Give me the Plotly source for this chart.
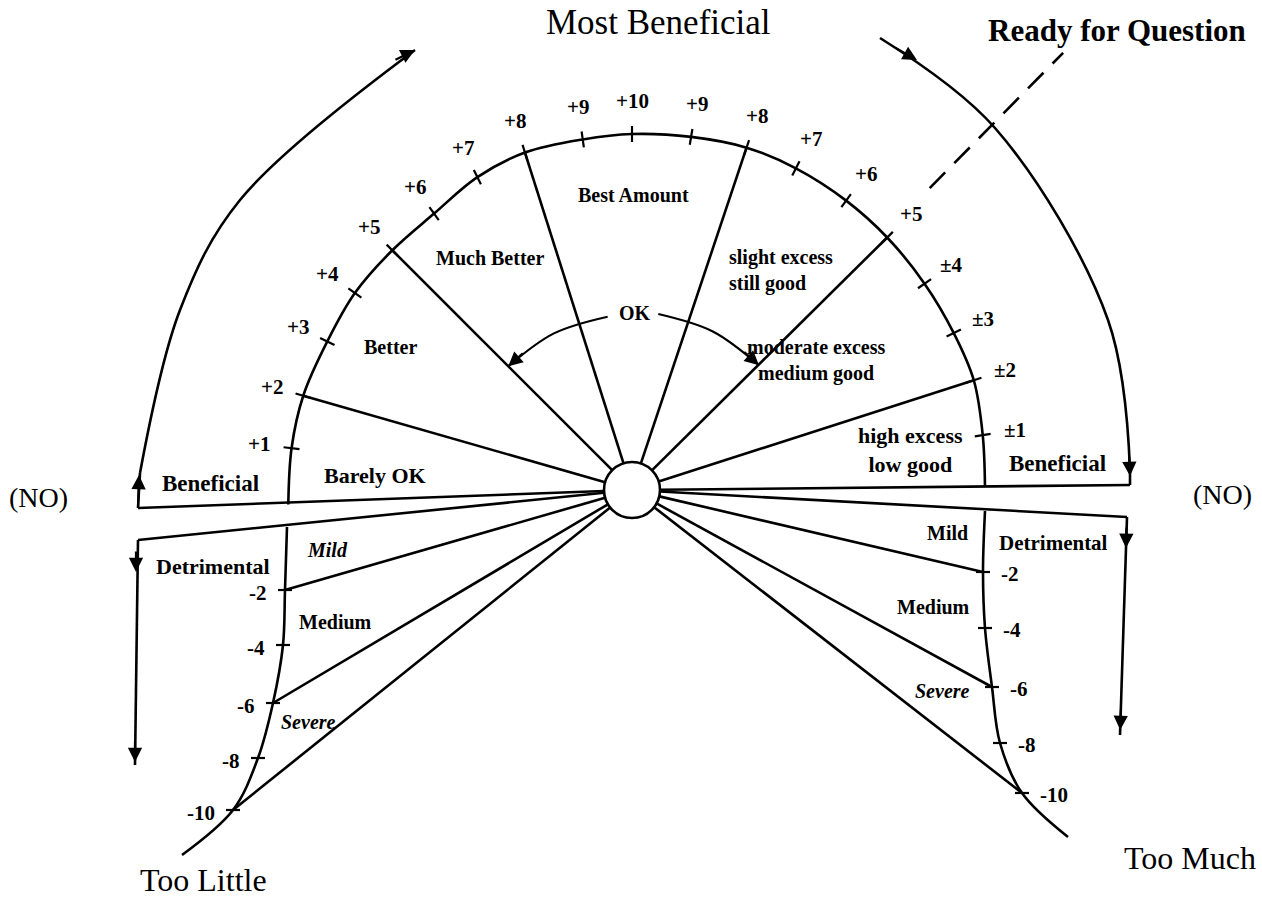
import math
import plotly.graph_objects as go

# ---------------- values ----------------
# geometry is expressed around the central hub (0, 0); units = pixels, y upward
HUB_RADIUS = 28

# upper (beneficial) scale: label, angle (deg), radius
upper_labels = ["+1", "+2", "+3", "+4", "+5", "+6", "+7", "+8", "+9", "+10",
                "+9", "+8", "+7", "+6", "+5", "±4", "±3", "±2", "±1"]
upper_angles = [173, 164, 154, 144.6, 135, 125.6, 116.3, 107.6, 98, 90,
                80.5, 71.5, 63, 53.5, 44.7, 35.2, 26, 17.8, 8.9]
upper_radii = [343, 342, 339, 340, 339, 340, 349, 354, 354, 356,
               358, 361, 361, 360, 359, 358, 358, 359, 355]
upper_end_angles = [182.4, 0.5]
upper_end_radii = [344, 353]
upper_spokes = [1, 4, 7, 11, 14, 17]          # +2, +5, +8 on both sides

# lower (detrimental) scales
lower_labels = ["-2", "-4", "-6", "-8", "-10"]
lower_left_x = [-347, -349, -359, -374, -399]
lower_left_y = [-100, -155, -213, -268, -320]
lower_left_ends_x = [-345, -450]
lower_left_ends_y = [-37, -365]
lower_right_x = [351, 353, 360, 368, 390]
lower_right_y = [-82, -138, -197, -253, -303]
lower_right_ends_x = [353, 436]
lower_right_ends_y = [-21, -347]
lower_spokes = [0, 2, 4]                       # -2, -6, -10

# outer "Beneficial" return paths
outer_left_x = [-492, -452, -392, -217]
outer_left_y = [17, 180, 290, 440]
outer_right_x = [248, 363, 476, 498]
outer_right_y = [452, 362, 170, 20]

# horizontal boundary lines (outer ends) and vertical drops
bound_x = [-494, -494, 498, 495]
bound_y = [-18, -50, 5, -27]
drop_left_end = (-497, -275)
drop_right_end = (488, -245)

# "OK" arcs: radius, start angle, end angle
ok_left = (175, 98, 135)
ok_right = (178, 81.5, 44.5)

# dashed "Ready for Question" ray: angle, inner r, outer r
ready_ray = (45.4, 424, 614)

FONT = "Liberation Serif"
INK = "black"
LW = 2.6


def polar(a, r):
    t = math.radians(a)
    return r * math.cos(t), r * math.sin(t)


fig = go.Figure()


def line(xs, ys, width=LW, shape="linear", dash="solid"):
    fig.add_trace(go.Scatter(x=xs, y=ys, mode="lines", hoverinfo="skip",
                             showlegend=False,
                             line=dict(color=INK, width=width, shape=shape, dash=dash)))


# upper arc
nodes = [polar(upper_end_angles[0], upper_end_radii[0])]
nodes += [polar(a, r) for a, r in zip(upper_angles, upper_radii)]
nodes += [polar(upper_end_angles[1], upper_end_radii[1])]
line([p[0] for p in nodes], [p[1] for p in nodes], shape="spline")

# upper ticks
tx, ty = [], []
for a, r in zip(upper_angles, upper_radii):
    p0, p1 = polar(a, r - 8), polar(a, r + 8)
    tx += [p0[0], p1[0], None]
    ty += [p0[1], p1[1], None]
line(tx, ty, width=2.2)

# upper spokes
sx, sy = [], []
for i in upper_spokes:
    p0 = polar(upper_angles[i], HUB_RADIUS)
    p1 = polar(upper_angles[i], upper_radii[i])
    sx += [p0[0], p1[0], None]
    sy += [p0[1], p1[1], None]
line(sx, sy)

# lower curves
for xs, ys, ex, ey in [(lower_left_x, lower_left_y, lower_left_ends_x, lower_left_ends_y),
                       (lower_right_x, lower_right_y, lower_right_ends_x, lower_right_ends_y)]:
    line([ex[0]] + xs + [ex[1]], [ey[0]] + ys + [ey[1]], shape="spline")
    kx, ky = [], []
    for x, y in zip(xs, ys):
        kx += [x - 7, x + 7, None]
        ky += [y, y, None]
    line(kx, ky, width=2.2)
    px, py = [], []
    for i in lower_spokes:
        d = math.hypot(xs[i], ys[i])
        px += [xs[i] * HUB_RADIUS / d, xs[i], None]
        py += [ys[i] * HUB_RADIUS / d, ys[i], None]
    line(px, py)

# boundary lines from hub
bx, by = [], []
for x, y in zip(bound_x, bound_y):
    d = math.hypot(x, y)
    bx += [x * HUB_RADIUS / d, x, None]
    by += [y * HUB_RADIUS / d, y, None]
line(bx, by)

# outer return arcs + vertical drops
line(outer_left_x, outer_left_y, shape="spline")
line([bound_x[0], outer_left_x[0]], [bound_y[0], outer_left_y[0]])
line(outer_right_x, outer_right_y, shape="spline")
line([outer_right_x[-1], bound_x[2]], [outer_right_y[-1], bound_y[2]])
line([bound_x[1], drop_left_end[0]], [bound_y[1], drop_left_end[1]])
line([bound_x[3], drop_right_end[0]], [bound_y[3], drop_right_end[1]])

# OK arcs
for r, a0, a1 in [ok_left, ok_right]:
    pts = [polar(a, r) for a in (a0, (a0 + a1) / 2, a1)]
    line([p[0] for p in pts], [p[1] for p in pts], width=2.2, shape="spline")

# dashed ray
p0 = polar(ready_ray[0], ready_ray[1])
p1 = polar(ready_ray[0], ready_ray[2])
line([p0[0], p1[0]], [p0[1], p1[1]], dash="22px,13px")

# hub
fig.add_shape(type="circle", xref="x", yref="y", x0=-HUB_RADIUS, y0=-HUB_RADIUS,
              x1=HUB_RADIUS, y1=HUB_RADIUS, line=dict(color=INK, width=LW),
              fillcolor="white")

annotations = []


def arrow(tip, tail):
    annotations.append(dict(x=tip[0], y=tip[1], ax=tail[0], ay=tail[1],
                            xref="x", yref="y", axref="x", ayref="y", text="",
                            showarrow=True, arrowhead=2, arrowsize=1.3,
                            arrowwidth=2.2, arrowcolor=INK, standoff=0))


arrow((outer_left_x[-1], outer_left_y[-1]), polar(119, 491))
arrow((outer_left_x[0] - 1, outer_left_y[0] - 2), (bound_x[0], bound_y[0]))
arrow((285, 430), (262, 443))
arrow((498, 14), (497, 36))
arrow((-496, -82), (-496, -60))
arrow((-497, -272), (-497, -250))
arrow((494, -58), (494.5, -36))
arrow((488.2, -240), (489, -218))
arrow(polar(ok_left[2], ok_left[0]), polar(ok_left[2] - 7, ok_left[0]))
arrow(polar(ok_right[2], ok_right[0]), polar(ok_right[2] + 7, ok_right[0]))


def text(x, y, s, size=20, bold=True, italic=False, xanchor="center", align="center"):
    if bold:
        s = "<b>" + s.replace("<br>", "</b><br><b>") + "</b>"
    if italic:
        s = "<i>" + s.replace("<br>", "</i><br><i>") + "</i>"
    annotations.append(dict(x=x, y=y, xref="x", yref="y", text=s, showarrow=False,
                            xanchor=xanchor, yanchor="middle", align=align,
                            font=dict(family=FONT, size=size, color=INK)))


# scale labels
for lab, a, r in zip(upper_labels, upper_angles, upper_radii):
    x, y = polar(a, r + 33)
    text(x, y, lab, size=21)
for lab, x, y in zip(lower_labels, lower_left_x, lower_left_y):
    text(x - 16, y - 3, lab, size=21, xanchor="right")
for lab, x, y in zip(lower_labels, lower_right_x, lower_right_y):
    text(x + 16, y - 2, lab, size=21, xanchor="left")

# region labels
text(1, 295, "Best Amount")
text(-142, 232, "Much Better")
text(-242, 143, "Better")
text(-257, 15, "Barely OK", size=22)
text(3, 177, "OK")
text(95, 220, "slight excess<br>still good", xanchor="left", align="left")
text(184, 130, "moderate excess<br>medium good")
text(278, 40, "high excess<br>low good", size=22)
text(-422, 7, "Beneficial", size=23)
text(425, 27, "Beneficial", size=23)
text(-419, -76, "Detrimental", size=22)
text(421, -53, "Detrimental", size=21)
text(-305, -60, "Mild", italic=True)
text(315, -43, "Mild")
text(-297, -132, "Medium")
text(301, -117, "Medium")
text(-324, -232, "Severe", italic=True)
text(310, -201, "Severe", italic=True)

# titles
text(26, 468, "Most Beneficial", size=35, bold=False)
text(485, 460, "Ready for Question", size=31)
text(-594, -7, "(NO)", size=28, bold=False)
text(590, -4, "(NO)", size=28, bold=False)
text(-429, -390, "Too Little", size=32, bold=False)
text(558, -368, "Too Much", size=32, bold=False)

fig.update_layout(
    width=1262, height=911,
    margin=dict(l=0, r=0, t=0, b=0),
    paper_bgcolor="white", plot_bgcolor="white",
    xaxis=dict(range=[-632, 630], visible=False, fixedrange=True),
    yaxis=dict(range=[-421, 490], visible=False, fixedrange=True),
    annotations=annotations,
    showlegend=False,
)

fig.write_html("out.html",
               config={"displayModeBar": False, "staticPlot": True},
               post_script="document.body.style.margin='0';document.body.style.overflow='hidden';")
